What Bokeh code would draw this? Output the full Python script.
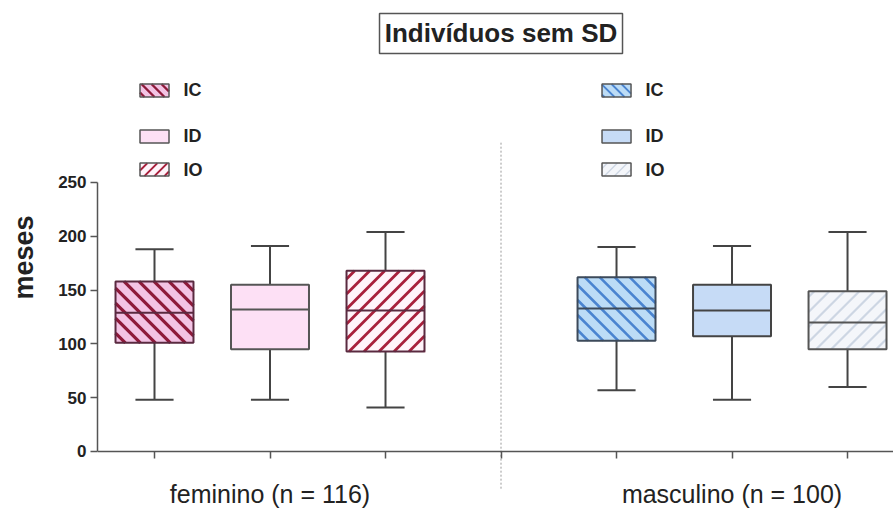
import math
from bokeh.plotting import figure
from bokeh.models import ColumnDataSource, Range1d, LinearAxis, FixedTicker
from bokeh.core.properties import value
from bokeh.transform import dodge
from bokeh.embed import file_html
from bokeh.resources import INLINE

# ---------------- data ----------------
positions = [1, 2, 3, 5, 6, 7]
groups = ["IC", "ID", "IO", "IC", "ID", "IO"]
whisker_low = [48, 48, 41, 57, 48, 60]
q1 = [101, 95, 93, 103, 107, 95]
median = [129, 132, 131, 133, 131, 120]
q3 = [158, 155, 168, 162, 155, 149]
whisker_high = [188, 191, 204, 190, 191, 204]

group_labels = {2: "feminino (n = 116)", 6: "masculino (n = 100)"}
y_ticks = [0, 50, 100, 150, 200, 250]
title_text = "Indivíduos sem SD"

# styles
fills = ["#f3c3e4", "#fde0f5", "#fff4fa", "#bcdcf6", "#c6dbf6", "#f4f6fa"]
hatches = ["\\", "", "/", "\\", "", "/"]
hatch_cols = ["#8e1a3a", "#8e1a3a", "#a8203c", "#4a84d0", "#4a84d0", "#cdd6e3"]
hatch_w = [3.2, 0, 2.8, 2.6, 0, 2.2]
outline_cols = ["#5a2a40", "#555555", "#5a2a40", "#3d4a5a", "#444444", "#555555"]

FONT = "Liberation Sans"
AX = "#555555"

W, H = 893, 514
BL = 97
XR = (0.5065, 7.398)
YR = (-58.55, 419.14)
KX = (W - BL) / (XR[1] - XR[0])   # px per x unit
KY = H / (YR[1] - YR[0])          # px per y unit
BOX_W = 0.675

p = figure(width=W, height=H, output_backend="svg", toolbar_location=None,
           x_range=Range1d(*XR), y_range=Range1d(*YR),
           min_border_left=BL, min_border_right=0, min_border_top=0, min_border_bottom=0,
           x_axis_type=None, y_axis_type=None)
p.grid.visible = False
p.outline_line_color = None
p.background_fill_color = "white"
p.border_fill_color = "white"


def hatch_lines(x0, x1, y0, y1, direction, spacing):
    """45-degree (on screen) hatch segments clipped to a data-space rectangle."""
    u0, u1, v0, v1 = x0 * KX, x1 * KX, y0 * KY, y1 * KY
    xs0, ys0, xs1, ys1 = [], [], [], []
    if direction == "\\":
        c = math.floor((u0 + v0) / spacing) * spacing
        while c <= u1 + v1:
            a, b = max(u0, c - v1), min(u1, c - v0)
            if a < b:
                xs0.append(a / KX); ys0.append((c - a) / KY)
                xs1.append(b / KX); ys1.append((c - b) / KY)
            c += spacing
    elif direction == "/":
        c = math.floor((v0 - u1) / spacing) * spacing
        while c <= v1 - u0:
            a, b = max(u0, v0 - c), min(u1, v1 - c)
            if a < b:
                xs0.append(a / KX); ys0.append((a + c) / KY)
                xs1.append(b / KX); ys1.append((b + c) / KY)
            c += spacing
    return xs0, ys0, xs1, ys1


src = ColumnDataSource(dict(x=positions, g=groups, lo=whisker_low, q1=q1, med=median,
                            q3=q3, hi=whisker_high, fc=fills, lc=outline_cols))

# whiskers
p.segment(x0="x", y0="q3", x1="x", y1="hi", source=src, line_color="#444444", line_width=2)
p.segment(x0="x", y0="q1", x1="x", y1="lo", source=src, line_color="#444444", line_width=2)
cap = 0.165
p.segment(x0=dodge("x", -cap), y0="hi", x1=dodge("x", cap), y1="hi", source=src,
          line_color="#444444", line_width=2)
p.segment(x0=dodge("x", -cap), y0="lo", x1=dodge("x", cap), y1="lo", source=src,
          line_color="#444444", line_width=2)

# box fills
p.vbar(x="x", top="q3", bottom="q1", width=BOX_W, source=src, fill_color="fc",
       line_color=None)
# box hatching
for i in range(len(positions)):
    if hatches[i]:
        xa, ya, xb, yb = hatch_lines(positions[i] - BOX_W / 2, positions[i] + BOX_W / 2,
                                     q1[i], q3[i], hatches[i], 15)
        p.segment(x0=xa, y0=ya, x1=xb, y1=yb, line_color=hatch_cols[i],
                  line_width=hatch_w[i])
# box outlines
p.vbar(x="x", top="q3", bottom="q1", width=BOX_W, source=src, fill_color=None,
       line_color="lc", line_width=2)
# medians
p.segment(x0=dodge("x", -BOX_W / 2), y0="med", x1=dodge("x", BOX_W / 2), y1="med",
          source=src, line_color="lc", line_width=2)

# divider
p.segment(x0=[4], y0=[287], x1=[4], y1=[-36], line_color="#9a9a9a", line_width=1,
          line_dash="2 2")

# y axis
yax = LinearAxis(ticker=FixedTicker(ticks=y_ticks), bounds=(0, 250), axis_label="meses")
yax.axis_line_color = AX
yax.axis_line_width = 1.5
yax.major_tick_line_color = AX
yax.major_tick_line_width = 1.5
yax.major_tick_out = 7
yax.major_tick_in = 0
yax.minor_tick_line_color = None
yax.major_label_text_font = FONT
yax.major_label_text_font_size = "17px"
yax.major_label_text_font_style = "bold"
yax.major_label_text_color = "#222222"
yax.major_label_standoff = 4
yax.axis_label_text_font = FONT
yax.axis_label_text_font_size = "27px"
yax.axis_label_text_font_style = "bold"
yax.axis_label_text_color = "#222222"
yax.axis_label_standoff = 16
p.add_layout(yax, "left")

# x axis fixed at y=0
xax = LinearAxis(ticker=FixedTicker(ticks=[1, 2, 3, 4, 5, 6, 7]), fixed_location=0)
xax.major_label_overrides = {t: group_labels.get(t, "") for t in [1, 2, 3, 4, 5, 6, 7]}
xax.axis_line_color = AX
xax.axis_line_width = 1.5
xax.major_tick_line_color = AX
xax.major_tick_line_width = 1.5
xax.major_tick_out = 7
xax.major_tick_in = 0
xax.minor_tick_line_color = None
xax.major_label_text_font = FONT
xax.major_label_text_font_size = "25px"
xax.major_label_text_color = "#222222"
xax.major_label_standoff = 22
p.add_layout(xax, "below")

# legends
leg_y = [335.5, 292.8, 262.0]
leg_x_left = 1.0
leg_x_right = 5.0
SW, SH = 29 / KX, 13 / KY
for i in range(6):
    lx = leg_x_left if i < 3 else leg_x_right
    ly = leg_y[i % 3]
    p.rect(x=[lx], y=[ly], width=SW, height=SH, fill_color=fills[i], line_color=None)
    if hatches[i]:
        xa, ya, xb, yb = hatch_lines(lx - SW / 2, lx + SW / 2, ly - SH / 2, ly + SH / 2,
                                     hatches[i], 10)
        p.segment(x0=xa, y0=ya, x1=xb, y1=yb, line_color=hatch_cols[i],
                  line_width=max(hatch_w[i] - 0.8, 1.4))
    p.rect(x=[lx], y=[ly], width=SW, height=SH, fill_color=None, line_color="#555555",
           line_width=1.5)
    p.text(x=[lx + 0.25], y=[ly], text=[groups[i]], text_font=value(FONT),
           text_font_size="18px", text_font_style="bold", text_baseline="middle",
           text_align="left", text_color="#222222")

# title in a box
p.rect(x=[4], y=[388.5], width=243, height=40, width_units="screen", height_units="screen",
       fill_color="white", line_color="#555555", line_width=1.5)
p.text(x=[4], y=[388.5], text=[title_text], text_font=value(FONT), text_font_size="26px",
       text_font_style="bold", text_align="center", text_baseline="middle",
       text_color="#222222")

open("out.html", "w").write(file_html(p, INLINE))
